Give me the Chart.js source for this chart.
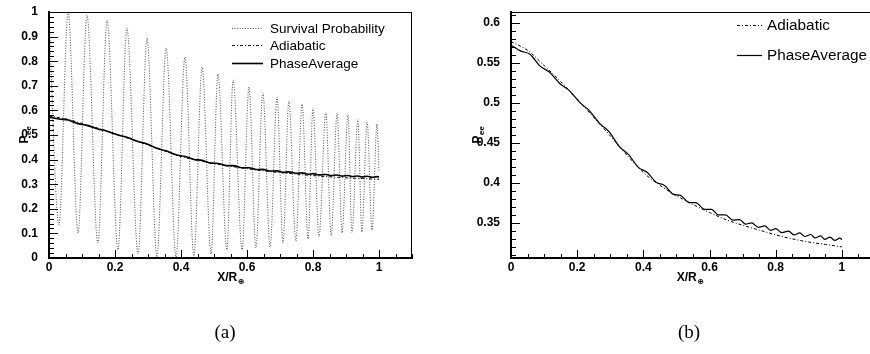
<!DOCTYPE html>
<html><head><meta charset="utf-8">
<script src="https://cdn.jsdelivr.net/npm/chart.js@4.4.1/dist/chart.umd.min.js"></script>
<style>
html,body{margin:0;padding:0;background:#fff;width:870px;height:354px;overflow:hidden;position:relative}
.box{position:absolute;top:0;width:430px;height:354px}
#boxA{left:0}
#boxB{left:440px}
.cap{position:absolute;top:321px;width:60px;text-align:center;font-family:"Liberation Serif","DejaVu Serif",serif;font-size:19px;color:#000}
</style></head><body>
<div class="box" id="boxA"><canvas id="cA" width="430" height="354"></canvas></div>
<div class="box" id="boxB"><canvas id="cB" width="430" height="354"></canvas></div>
<div class="cap" style="left:195px">(a)</div>
<div class="cap" style="left:659px">(b)</div>
<script>
// ---------------- data ----------------
const survX = [0, 0.030, 0.058, 0.088, 0.115, 0.148, 0.176, 0.209, 0.236, 0.270, 0.297, 0.327, 0.355, 0.385, 0.412, 0.439, 0.464, 0.491, 0.512, 0.539, 0.558, 0.585, 0.606, 0.627, 0.648, 0.670, 0.691, 0.709, 0.727, 0.748, 0.767, 0.785, 0.800, 0.818, 0.839, 0.855, 0.873, 0.888, 0.906, 0.918, 0.936, 0.948, 0.964, 0.979, 0.994, 1.0];
const survP = [0.98, 0.134, 1.0, 0.102, 0.988, 0.061, 0.967, 0.033, 0.935, 0.016, 0.894, 0.004, 0.854, 0.004, 0.817, 0.008, 0.776, 0.016, 0.748, 0.033, 0.724, 0.033, 0.695, 0.041, 0.671, 0.045, 0.654, 0.061, 0.638, 0.069, 0.626, 0.077, 0.610, 0.085, 0.593, 0.089, 0.589, 0.102, 0.581, 0.102, 0.565, 0.106, 0.553, 0.114, 0.545, 0.35];
const phaseX = survX;
const phaseP = [0.5725, 0.565, 0.5609, 0.5462, 0.5391, 0.5242, 0.5156, 0.5002, 0.4909, 0.4736, 0.4639, 0.4457, 0.4357, 0.4195, 0.413, 0.4007, 0.3969, 0.3857, 0.3844, 0.3754, 0.3754, 0.3669, 0.3668, 0.3599, 0.3601, 0.3534, 0.3541, 0.3483, 0.3501, 0.3444, 0.3461, 0.3407, 0.3428, 0.3378, 0.3397, 0.3349, 0.3374, 0.3329, 0.3354, 0.3311, 0.3336, 0.3293, 0.3322, 0.328, 0.3309, 0.329];
const adiabX = [0, 0.05, 0.1, 0.15, 0.2, 0.25, 0.3, 0.35, 0.4, 0.45, 0.5, 0.55, 0.6, 0.65, 0.7, 0.75, 0.8, 0.85, 0.9, 0.95, 1.0];
const adiabP = [0.577, 0.566, 0.547, 0.527, 0.505, 0.482, 0.459, 0.435, 0.413, 0.397, 0.384, 0.373, 0.363, 0.354, 0.347, 0.341, 0.335, 0.330, 0.326, 0.323, 0.320];
const xTicks = [0, 0.2, 0.4, 0.6, 0.8, 1];
const yTicksA = [0, 0.1, 0.2, 0.3, 0.4, 0.5, 0.6, 0.7, 0.8, 0.9, 1];
const yTicksB = [0.35, 0.4, 0.45, 0.5, 0.55, 0.6];
const labelsA = ['Survival Probability', 'Adiabatic', 'PhaseAverage'];
const labelsB = ['Adiabatic', 'PhaseAverage'];
// -------------------------------------------------------------

const SANS = '"Liberation Sans", Arial, Helvetica, sans-serif';
const pts = (xs, ys) => xs.map((x, i) => ({x, y: ys[i]}));
const fmt = v => String(parseFloat(Number(v).toFixed(2)));

const styleSurv = {borderColor: 'rgba(0,0,0,0.7)', borderWidth: 1, borderDash: [1, 1.6]};
const styleAdiab = {borderColor: '#000', borderWidth: 1, borderDash: [3, 2, 1, 2]};

function build(id, cfg) {
  const deco = {
    id: 'deco',
    afterDraw(chart) {
      const {ctx, chartArea: a, scales: {x, y}} = chart;
      ctx.save();
      ctx.strokeStyle = '#000';
      ctx.lineWidth = 1;
      ctx.beginPath();
      ctx.moveTo(a.left, a.top + 0.5); ctx.lineTo(a.right, a.top + 0.5);
      if (cfg.rightFrame) { ctx.moveTo(a.right - 0.5, a.top); ctx.lineTo(a.right - 0.5, a.bottom); }
      ctx.stroke();
      ctx.beginPath();
      const nx = Math.floor(cfg.xMax / 0.05 + 1e-6);
      for (let i = 0; i <= nx; i++) {
        const px = Math.round(x.getPixelForValue(i * 0.05)) + 0.5;
        const len = (i % 4 === 0) ? 8 : 4;
        ctx.moveTo(px, a.bottom); ctx.lineTo(px, a.bottom - len);
      }
      const i0 = Math.ceil(cfg.yMin / cfg.yMinor - 1e-6), i1 = Math.floor(cfg.yMax / cfg.yMinor + 1e-6);
      for (let i = i0; i <= i1; i++) {
        const py = Math.round(y.getPixelForValue(i * cfg.yMinor)) + 0.5;
        const len = (i % cfg.ratio === 0) ? 9 : 5;
        ctx.moveTo(a.left, py); ctx.lineTo(a.left + len, py);
      }
      ctx.stroke();
      // axis titles
      ctx.fillStyle = '#000';
      ctx.textBaseline = 'alphabetic';
      const cx = (a.left + a.right) / 2 + cfg.titleShift;
      ctx.font = 'bold 12px ' + SANS;
      const w1 = ctx.measureText('X/R').width;
      ctx.font = 'bold 8px "DejaVu Sans", ' + SANS;
      const w2 = ctx.measureText('\u2295').width;
      const sx = cx - (w1 + w2) / 2;
      ctx.font = 'bold 12px ' + SANS;
      ctx.textAlign = 'left';
      ctx.fillText('X/R', sx, 281);
      ctx.font = 'bold 8px "DejaVu Sans", ' + SANS;
      ctx.fillText('\u2295', sx + w1 + 0.5, 284);
      ctx.save();
      ctx.translate(cfg.yTitleX, (a.top + a.bottom) / 2);
      ctx.rotate(-Math.PI / 2);
      ctx.font = 'bold 12px ' + SANS;
      const p1 = ctx.measureText('P').width;
      ctx.font = 'bold 8px ' + SANS;
      const p2 = ctx.measureText('ee').width;
      const sy = -(p1 + p2) / 2;
      ctx.font = 'bold 12px ' + SANS;
      ctx.fillText('P', sy, 4);
      ctx.font = 'bold 8px ' + SANS;
      ctx.fillText('ee', sy + p1 + 0.5, 7);
      ctx.restore();
      // legend
      ctx.font = cfg.legFont + 'px ' + SANS;
      ctx.textBaseline = 'middle';
      ctx.textAlign = 'left';
      cfg.legend.forEach((it, k) => {
        const ry = cfg.legY[k];
        ctx.save();
        ctx.strokeStyle = it.style.borderColor;
        ctx.lineWidth = it.style.borderWidth;
        ctx.setLineDash(it.style.borderDash || []);
        ctx.beginPath();
        ctx.moveTo(cfg.legX0, ry + 0.5); ctx.lineTo(cfg.legX1, ry + 0.5);
        ctx.stroke();
        ctx.restore();
        ctx.fillText(it.label, cfg.legTx, ry + 1);
      });
      ctx.restore();
    }
  };

  return new Chart(document.getElementById(id), {
    type: 'line',
    data: {datasets: cfg.datasets},
    options: {
      responsive: false, animation: false, devicePixelRatio: 1,
      layout: {padding: {top: 12, right: cfg.padRight, left: 0, bottom: 0}},
      plugins: {legend: {display: false}, tooltip: {enabled: false}},
      elements: {point: {radius: 0}, line: {cubicInterpolationMode: 'monotone'}},
      scales: {
        x: {
          type: 'linear', min: 0, max: cfg.xMax,
          afterFit: s => { s.height = 96; },
          afterBuildTicks: s => { s.ticks = xTicks.map(v => ({value: v})); },
          ticks: {autoSkip: false, maxRotation: 0, padding: -6, color: '#000',
                  font: {family: SANS, weight: 'bold', size: 12}, callback: v => fmt(v)},
          grid: {display: false},
          border: {display: true, color: '#000', width: 2}
        },
        y: {
          type: 'linear', min: cfg.yMin, max: cfg.yMax,
          afterFit: s => { s.width = cfg.yWidth; },
          afterBuildTicks: s => { s.ticks = cfg.yTicks.map(v => ({value: v})); },
          ticks: {autoSkip: false, padding: 3, color: '#000',
                  font: {family: SANS, weight: 'bold', size: 12}, callback: v => fmt(v)},
          grid: {display: false},
          border: {display: true, color: '#000', width: 2}
        }
      }
    },
    plugins: [deco]
  });
}

build('cA', {
  xMax: 1.1, yMin: 0, yMax: 1, yMinor: 0.02, ratio: 5, yTicks: yTicksA,
  yWidth: 49, padRight: 18, rightFrame: true, yTitleX: 24, titleShift: 0,
  datasets: [
    Object.assign({label: labelsA[0], data: pts(survX, survP), fill: false}, styleSurv),
    Object.assign({label: labelsA[1], data: pts(adiabX, adiabP), fill: false}, styleAdiab),
    {label: labelsA[2], data: pts(phaseX, phaseP), fill: false, borderColor: '#000', borderWidth: 1.6}
  ],
  legFont: 13.5, legX0: 232, legX1: 263, legTx: 270, legY: [28, 45, 63],
  legend: [
    {label: labelsA[0], style: styleSurv},
    {label: labelsA[1], style: styleAdiab},
    {label: labelsA[2], style: {borderColor: '#000', borderWidth: 1.6}}
  ]
});

build('cB', {
  xMax: 1.085, yMin: 0.306, yMax: 0.614, yMinor: 0.01, ratio: 5, yTicks: yTicksB,
  yWidth: 71, padRight: 0, rightFrame: false, yTitleX: 37, titleShift: -0.5,
  datasets: [
    Object.assign({label: labelsB[0], data: pts(adiabX, adiabP), fill: false}, styleAdiab),
    {label: labelsB[1], data: pts(phaseX, phaseP), fill: false, borderColor: '#000', borderWidth: 1.2}
  ],
  legFont: 15.3, legX0: 297, legX1: 322, legTx: 327, legY: [25, 55],
  legend: [
    {label: labelsB[0], style: styleAdiab},
    {label: labelsB[1], style: {borderColor: '#000', borderWidth: 1.2}}
  ]
});
</script>
</body></html>
